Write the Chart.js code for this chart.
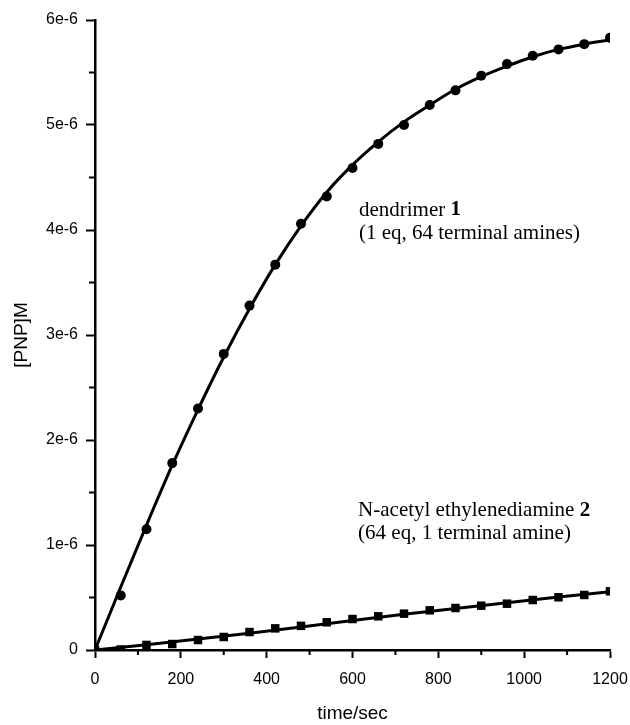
<!DOCTYPE html>
<html>
<head>
<meta charset="utf-8">
<script src="https://cdn.jsdelivr.net/npm/chart.js@4.4.0/dist/chart.umd.min.js"></script>
<style>
  html, body { margin: 0; padding: 0; background: #fff; }
</style>
</head>
<body>
<canvas id="chart" width="630" height="725"></canvas>
<script>
// time in seconds, [PNP] in units of 1e-6 M
const times = [0, 60, 120, 180, 240, 300, 360, 420, 480, 540, 600, 660, 720, 780, 840, 900, 960, 1020, 1080, 1140, 1200];
const dendrimerData = [0, 0.52, 1.15, 1.78, 2.30, 2.82, 3.28, 3.67, 4.06, 4.32, 4.59, 4.82, 5.00, 5.19, 5.33, 5.47, 5.58, 5.66, 5.72, 5.77, 5.83];
const dendrimerFit = [0, 0.60, 1.19, 1.76, 2.29, 2.79, 3.25, 3.67, 4.04, 4.36, 4.62, 4.84, 5.03, 5.19, 5.34, 5.46, 5.56, 5.65, 5.72, 5.77, 5.81];
const amineData = [0, 0.005, 0.048, 0.057, 0.095, 0.124, 0.171, 0.206, 0.230, 0.264, 0.295, 0.321, 0.346, 0.378, 0.400, 0.422, 0.441, 0.476, 0.502, 0.524, 0.559];
const fitTimes = [0, 120, 240, 360, 480, 600, 720, 840, 960, 1080, 1200];
const amineFit = [0, 0.05, 0.105, 0.16, 0.22, 0.28, 0.34, 0.395, 0.45, 0.505, 0.555];

const xTicks = [0, 200, 400, 600, 800, 1000, 1200];
const yTicks = [0, 1, 2, 3, 4, 5, 6];
const xMinor = [100, 300, 500, 700, 900, 1100];
const yMinor = [0.5, 1.5, 2.5, 3.5, 4.5, 5.5];

const label1 = { x: 615, y1: 4.19, y2: 3.97, name: 'dendrimer ', num: '1', sub: '(1 eq, 64 terminal amines)' };
const label2 = { x: 613, y1: 1.33, y2: 1.11, name: 'N-acetyl ethylenediamine ', num: '2', sub: '(64 eq, 1 terminal amine)' };

const pts = (xs, ys) => xs.map((x, i) => ({ x: x, y: ys[i] }));

const sansFont = 'Liberation Sans, Arial, sans-serif';
const serifFont = 'Liberation Serif, Times New Roman, serif';

const extras = {
  id: 'extras',
  afterDraw(chart) {
    const ctx = chart.ctx;
    const xs = chart.scales.x, ys = chart.scales.y;
    const area = chart.chartArea;
    ctx.save();
    ctx.strokeStyle = '#000';
    ctx.lineWidth = 2;
    ctx.beginPath();
    xMinor.forEach(v => {
      const px = xs.getPixelForValue(v);
      ctx.moveTo(px, area.bottom);
      ctx.lineTo(px, area.bottom + 5);
    });
    yMinor.forEach(v => {
      const py = ys.getPixelForValue(v);
      ctx.moveTo(area.left - 6, py);
      ctx.lineTo(area.left, py);
    });
    ctx.stroke();

    ctx.fillStyle = '#000';
    ctx.textBaseline = 'middle';
    ctx.textAlign = 'left';
    [label1, label2].forEach(l => {
      const px = xs.getPixelForValue(l.x);
      ctx.font = '21px ' + serifFont;
      ctx.fillText(l.name, px, ys.getPixelForValue(l.y1));
      const w = ctx.measureText(l.name).width;
      ctx.font = 'bold 21px ' + serifFont;
      ctx.fillText(l.num, px + w, ys.getPixelForValue(l.y1));
      ctx.font = '21px ' + serifFont;
      ctx.fillText(l.sub, px, ys.getPixelForValue(l.y2));
    });
    ctx.restore();
  }
};

new Chart(document.getElementById('chart'), {
  type: 'scatter',
  data: {
    datasets: [
      {
        data: pts(times, dendrimerFit),
        showLine: true,
        borderColor: '#000',
        borderWidth: 3,
        pointRadius: 0,
        cubicInterpolationMode: 'monotone'
      },
      {
        data: pts(fitTimes, amineFit),
        showLine: true,
        borderColor: '#000',
        borderWidth: 3,
        pointRadius: 0
      },
      {
        data: pts(times, dendrimerData),
        pointStyle: 'circle',
        pointRadius: 5,
        backgroundColor: '#000',
        borderColor: '#000',
        borderWidth: 0
      },
      {
        data: pts(times, amineData),
        pointStyle: 'rect',
        pointRadius: 6,
        backgroundColor: '#000',
        borderColor: '#000',
        borderWidth: 0
      }
    ]
  },
  options: {
    responsive: false,
    animation: false,
    layout: {
      padding: { top: 20, right: 20, left: 0, bottom: 0 }
    },
    scales: {
      x: {
        type: 'linear',
        min: 0,
        max: 1200,
        afterFit: s => { s.height = 75; s.paddingRight = 0; s.paddingLeft = 0; },
        afterBuildTicks: s => { s.ticks = xTicks.map(v => ({ value: v })); },
        border: { display: true, color: '#000', width: 2.5 },
        grid: {
          drawOnChartArea: false,
          drawTicks: true,
          tickLength: 8,
          tickWidth: 2,
          tickColor: '#000'
        },
        ticks: {
          color: '#000',
          padding: 12,
          maxRotation: 0,
          font: { family: sansFont, size: 16 },
          callback: v => String(v)
        },
        title: {
          display: true,
          text: 'time/sec',
          color: '#000',
          padding: { top: 0, bottom: 0 },
          font: { family: sansFont, size: 19 }
        }
      },
      y: {
        type: 'linear',
        min: 0,
        max: 6,
        afterFit: s => { s.width = 95; s.paddingTop = 0; s.paddingBottom = 0; },
        afterBuildTicks: s => { s.ticks = yTicks.map(v => ({ value: v })); },
        border: { display: true, color: '#000', width: 2.5 },
        grid: {
          drawOnChartArea: false,
          drawTicks: true,
          tickLength: 9,
          tickWidth: 2,
          tickColor: '#000'
        },
        ticks: {
          color: '#000',
          padding: 8,
          font: { family: sansFont, size: 16 },
          callback: v => v === 0 ? '0' : v + 'e-6'
        },
        title: {
          display: true,
          text: '[PNP]M',
          color: '#000',
          padding: { top: 10, bottom: 0 },
          font: { family: sansFont, size: 19 }
        }
      }
    },
    plugins: {
      legend: { display: false },
      tooltip: { enabled: false }
    }
  },
  plugins: [extras]
});
</script>
</body>
</html>
